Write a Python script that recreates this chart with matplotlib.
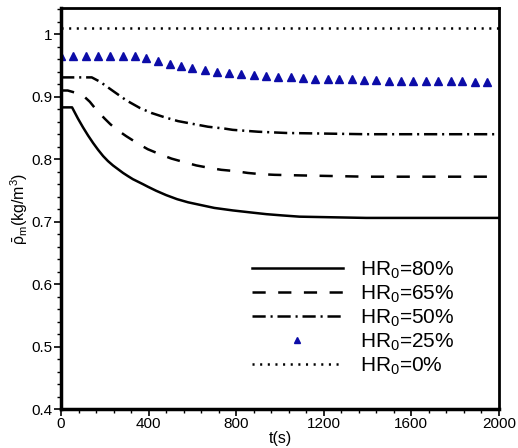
import matplotlib
matplotlib.use("Agg")
import matplotlib.pyplot as plt
from matplotlib.ticker import MultipleLocator, FixedLocator

plt.rcParams['font.family'] = ['Liberation Sans', 'DejaVu Sans']
plt.rcParams['mathtext.fontset'] = 'custom'
plt.rcParams['mathtext.rm'] = 'Liberation Sans'
plt.rcParams['mathtext.it'] = 'Liberation Sans'
plt.rcParams['lines.scale_dashes'] = False

# HR0 = 80%
t80 = [0, 50, 62, 77, 100, 123, 146, 169, 192, 214, 237, 260, 283, 305, 328, 351, 374, 396,
       434, 480, 530, 580, 633, 700, 784, 860, 938, 1010, 1089, 1240, 1394, 1600, 2000]
v80 = [0.883, 0.883, 0.875, 0.865, 0.851, 0.838, 0.826, 0.815, 0.805, 0.797, 0.790, 0.784,
       0.778, 0.773, 0.768, 0.764, 0.760, 0.756, 0.7495, 0.7425, 0.736, 0.731, 0.727, 0.722,
       0.718, 0.715, 0.712, 0.710, 0.708, 0.707, 0.706, 0.706, 0.706]

# HR0 = 65%
t65 = [0, 30, 60, 100, 131, 161, 199, 225, 252, 297, 351, 396, 451, 504, 565, 618, 679, 732,
       793, 853, 914, 975, 1100, 1393, 2000]
v65 = [0.910, 0.910, 0.907, 0.902, 0.892, 0.879, 0.865, 0.856, 0.848, 0.837, 0.825, 0.816,
       0.808, 0.801, 0.795, 0.790, 0.786, 0.783, 0.781, 0.778, 0.776, 0.775, 0.774, 0.772, 0.772]

# HR0 = 50%
t50 = [0, 140, 178, 238, 299, 360, 413, 474, 534, 610, 671, 747, 784, 900, 1028, 1393, 2000]
v50 = [0.931, 0.931, 0.924, 0.909, 0.894, 0.882, 0.874, 0.867, 0.861, 0.856, 0.852, 0.849,
       0.847, 0.844, 0.842, 0.840, 0.840]

# HR0 = 25% (markers)
t25 = [0, 56, 112, 167, 223, 281, 337, 386, 441, 497, 547, 598, 656, 714, 767, 823, 881, 937,
       993, 1051, 1104, 1160, 1218, 1271, 1327, 1385, 1441, 1496, 1552, 1610, 1666, 1723, 1780,
       1833, 1891, 1947]
v25 = [0.966, 0.966, 0.966, 0.966, 0.966, 0.966, 0.966, 0.962, 0.957, 0.953, 0.949, 0.946,
       0.9435, 0.940, 0.938, 0.9365, 0.935, 0.933, 0.932, 0.931, 0.930, 0.929, 0.929, 0.928,
       0.928, 0.927, 0.927, 0.926, 0.926, 0.926, 0.925, 0.925, 0.925, 0.925, 0.924, 0.924]

# HR0 = 0%
t0 = [0, 2000]
v0 = [1.01, 1.01]

labels = ['HR$_0$=80%', 'HR$_0$=65%', 'HR$_0$=50%', 'HR$_0$=25%', 'HR$_0$=0%']

fig = plt.figure(figsize=(5.18, 4.48), dpi=100)
ax = fig.add_axes([0.118, 0.087, 0.845, 0.895])

ax.plot(t80, v80, color='black', lw=1.8, label=labels[0])
ax.plot(t65, v65, color='black', lw=1.8, linestyle=(0, (9.5, 9.0)), label=labels[1])
ax.plot(t50, v50, color='black', lw=1.8, linestyle=(0, (9.5, 3.5, 1.5, 3.5)), label=labels[2])
ax.plot(t25, v25, linestyle='none', marker='^', ms=6, color='#0c0ca8', label=labels[3])
ax.plot(t0, v0, color='black', lw=1.8, linestyle=(0, (1.5, 4.0)), label=labels[4])

ax.set_xlim(0, 2000)
ax.set_ylim(0.4, 1.042)
ax.xaxis.set_major_locator(MultipleLocator(400))
ax.xaxis.set_minor_locator(MultipleLocator(80))
ax.yaxis.set_major_locator(FixedLocator([0.4, 0.5, 0.6, 0.7, 0.8, 0.9, 1.0]))
ax.yaxis.set_minor_locator(MultipleLocator(0.02))
ax.set_yticklabels(['0.4', '0.5', '0.6', '0.7', '0.8', '0.9', '1'])

ax.tick_params(which='major', direction='out', length=5, width=1.2, labelsize=11, pad=1)
ax.tick_params(which='minor', direction='out', length=3, width=1.0)
for s in ['left', 'bottom']:
    ax.spines[s].set_linewidth(2.5)
for s in ['top', 'right']:
    ax.spines[s].set_linewidth(2.0)

ax.set_xlabel('t(s)', fontsize=11.5, labelpad=0)
ax.set_ylabel(r'$\bar{\rho}_{m}$(kg/m$^3$)', fontsize=11.5, labelpad=1)

ax.legend(loc='lower right', bbox_to_anchor=(0.941, 0.033), frameon=False, fontsize=15,
          handlelength=4.4, handletextpad=0.8, labelspacing=0.13, numpoints=1,
          markerscale=0.8)

fig.savefig('out.png', dpi=100)
